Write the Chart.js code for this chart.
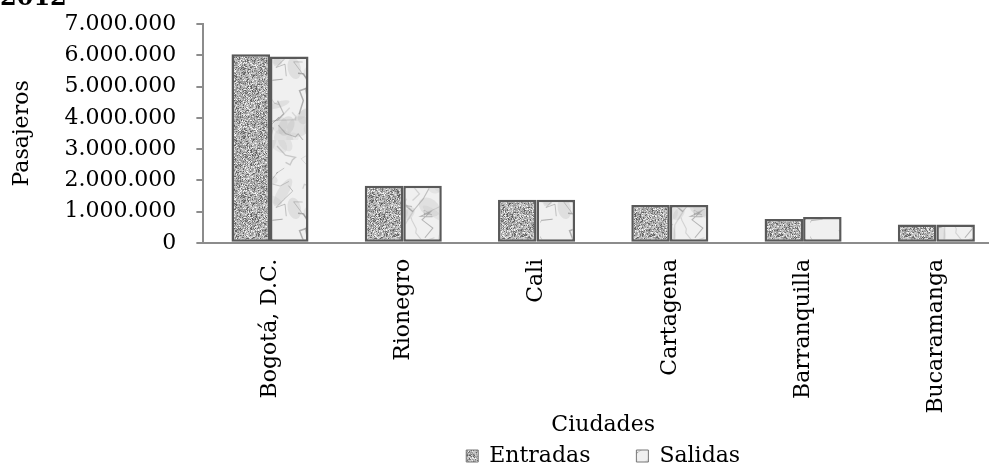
<!DOCTYPE html>
<html>
<head>
<meta charset="utf-8">
<script src="https://cdn.jsdelivr.net/npm/chart.js@4.4.1/dist/chart.umd.min.js"></script>
<style>
  html, body { margin: 0; padding: 0; background: #fff; overflow: hidden; }
  #wrap { position: relative; width: 1010px; height: 477px; }
  #year { position: absolute; left: 0; top: -15px; font: bold 24px 'DejaVu Serif', serif; line-height: 24px; color: #000; z-index: 2; }
</style>
</head>
<body>
<div id="wrap">
  <div id="year">2012</div>
  <canvas id="c"></canvas>
</div>
<script>
// datos
var ciudades = ['Bogotá, D.C.', 'Rionegro', 'Cali', 'Cartagena', 'Barranquilla', 'Bucaramanga'];
var entradas = [6030000, 1830000, 1380000, 1210000, 765000, 585000];
var salidas = [5960000, 1830000, 1380000, 1210000, 830000, 585000];
var yTicks = [0, 1000000, 2000000, 3000000, 4000000, 5000000, 6000000, 7000000];

var canvas = document.getElementById('c');
var ctx = canvas.getContext('2d');

//simple seeded generator, only used for the textures
function seeded(seed) {
	var s = seed;
	return function () {
		s = (s * 1103515245 + 12345) & 0x7fffffff;
		return s / 0x7fffffff;
	};
}

//softens a texture a little so it looks less like a dot grid
function soften(src, amount) {
	var out = document.createElement('canvas');
	out.width = src.width; out.height = src.height;
	var o = out.getContext('2d');
	o.drawImage(src, 0, 0);
	o.filter = 'blur(' + amount + 'px)';
	o.drawImage(src, 0, 0);
	return out;
}

//speckled grey texture for Entradas
function granite() {
	var off = document.createElement('canvas');
	off.width = 64; off.height = 64;
	var g = off.getContext('2d');
	var img = g.createImageData(64, 64);
	var rnd = seeded(7);
	for (var i = 0; i < 64 * 64; i++) {
		var r = rnd(), v;
		if (r < 0.18) v = 90 + rnd() * 35;
		else if (r < 0.55) v = 145 + rnd() * 30;
		else if (r < 0.87) v = 185 + rnd() * 25;
		else v = 220 + rnd() * 30;
		img.data[i * 4] = img.data[i * 4 + 1] = img.data[i * 4 + 2] = v;
		img.data[i * 4 + 3] = 255;
	}
	g.putImageData(img, 0, 0);
	return ctx.createPattern(soften(off, 0.45), 'repeat');
}

//white marble texture for Salidas
function marble() {
	var off = document.createElement('canvas');
	off.width = 90; off.height = 140;
	var g = off.getContext('2d');
	g.fillStyle = '#f0f0f0';
	g.fillRect(0, 0, 90, 140);
	var rnd = seeded(11);
	for (var i = 0; i < 34; i++) {
		g.fillStyle = 'rgba(185,185,185,' + (0.15 + rnd() * 0.2) + ')';
		g.beginPath();
		g.ellipse(rnd() * 90, rnd() * 140, 4 + rnd() * 12, 3 + rnd() * 8, rnd() * 3, 0, Math.PI * 2);
		g.fill();
	}
	for (var j = 0; j < 24; j++) {
		var x = rnd() * 90, y = rnd() * 140;
		g.strokeStyle = 'rgba(125,125,125,' + (0.2 + rnd() * 0.4) + ')';
		g.lineWidth = 0.6 + rnd() * 0.9;
		g.beginPath();
		g.moveTo(x, y);
		for (var k = 0; k < 5; k++) {
			x += (rnd() - 0.5) * 24;
			y += (rnd() - 0.25) * 20;
			g.lineTo(x, y);
		}
		g.stroke();
	}
	return ctx.createPattern(soften(off, 0.7), 'repeat');
}

function miles(v) {
	return String(v).replace(/\B(?=(\d{3})+(?!\d))/g, '.');
}

Chart.defaults.font.family = "'DejaVu Serif', serif";
Chart.defaults.font.size = 22;
Chart.defaults.color = '#000';

//legend centred under the plot area like the original
var centerLegend = {
	id: 'centerLegend',
	afterLayout: function (chart) {
		chart.legend.left = chart.chartArea.left;
		chart.legend.right = chart.chartArea.right;
	}
};

var axisColor = '#8c8c8c';

var myChart = new Chart(ctx, {
	type: 'bar',
	data: {
		labels: ciudades,
		datasets: [{
			label: 'Entradas',
			data: entradas,
			backgroundColor: granite(),
			borderColor: '#595959',
			borderWidth: 2.5,
			borderSkipped: false
		}, {
			label: 'Salidas',
			data: salidas,
			backgroundColor: marble(),
			borderColor: '#595959',
			borderWidth: 2.5,
			borderSkipped: false
		}]
	},
	options: {
		responsive: true,
		maintainAspectRatio: false,
		devicePixelRatio: 1,
		animation: false,
		layout: { padding: { top: 24, right: 7, left: 0, bottom: 0 } },
		datasets: { bar: { categoryPercentage: 0.578, barPercentage: 1 } },
		plugins: {
			legend: {
				position: 'bottom',
				labels: {
					boxWidth: 12,
					boxHeight: 12,
					padding: 4,
					generateLabels: function (chart) {
						var items = Chart.defaults.plugins.legend.labels.generateLabels(chart);
						items[0].text += '      ';
						items.forEach(function (it) { it.lineWidth = 1; it.strokeStyle = '#777'; });
						return items;
					}
				}
			},
			tooltip: { enabled: false }
		},
		scales: {
			x: {
				grid: { display: false, drawTicks: false },
				border: { display: true, color: axisColor, width: 2 },
				ticks: { minRotation: 90, maxRotation: 90, padding: 16 },
				title: { display: true, text: 'Ciudades', padding: { top: -18, bottom: 3 } }
			},
			y: {
				min: 0,
				max: 7000000,
				afterBuildTicks: function (axis) {
					axis.ticks = yTicks.map(function (v) { return { value: v }; });
				},
				//the tick padding should not push the plot down
				afterFit: function (axis) {
					axis.paddingTop = 13;
					axis.paddingBottom = 13;
				},
				grid: { drawOnChartArea: false, drawTicks: true, tickLength: 7, color: axisColor, lineWidth: 2 },
				border: { display: true, color: axisColor, width: 2 },
				ticks: { padding: 20, autoSkip: false, callback: function (v) { return miles(v); } },
				title: { display: true, text: 'Pasajeros', padding: { top: 9, bottom: 9 } }
			}
		}
	},
	plugins: [centerLegend]
});
</script>
</body>
</html>
